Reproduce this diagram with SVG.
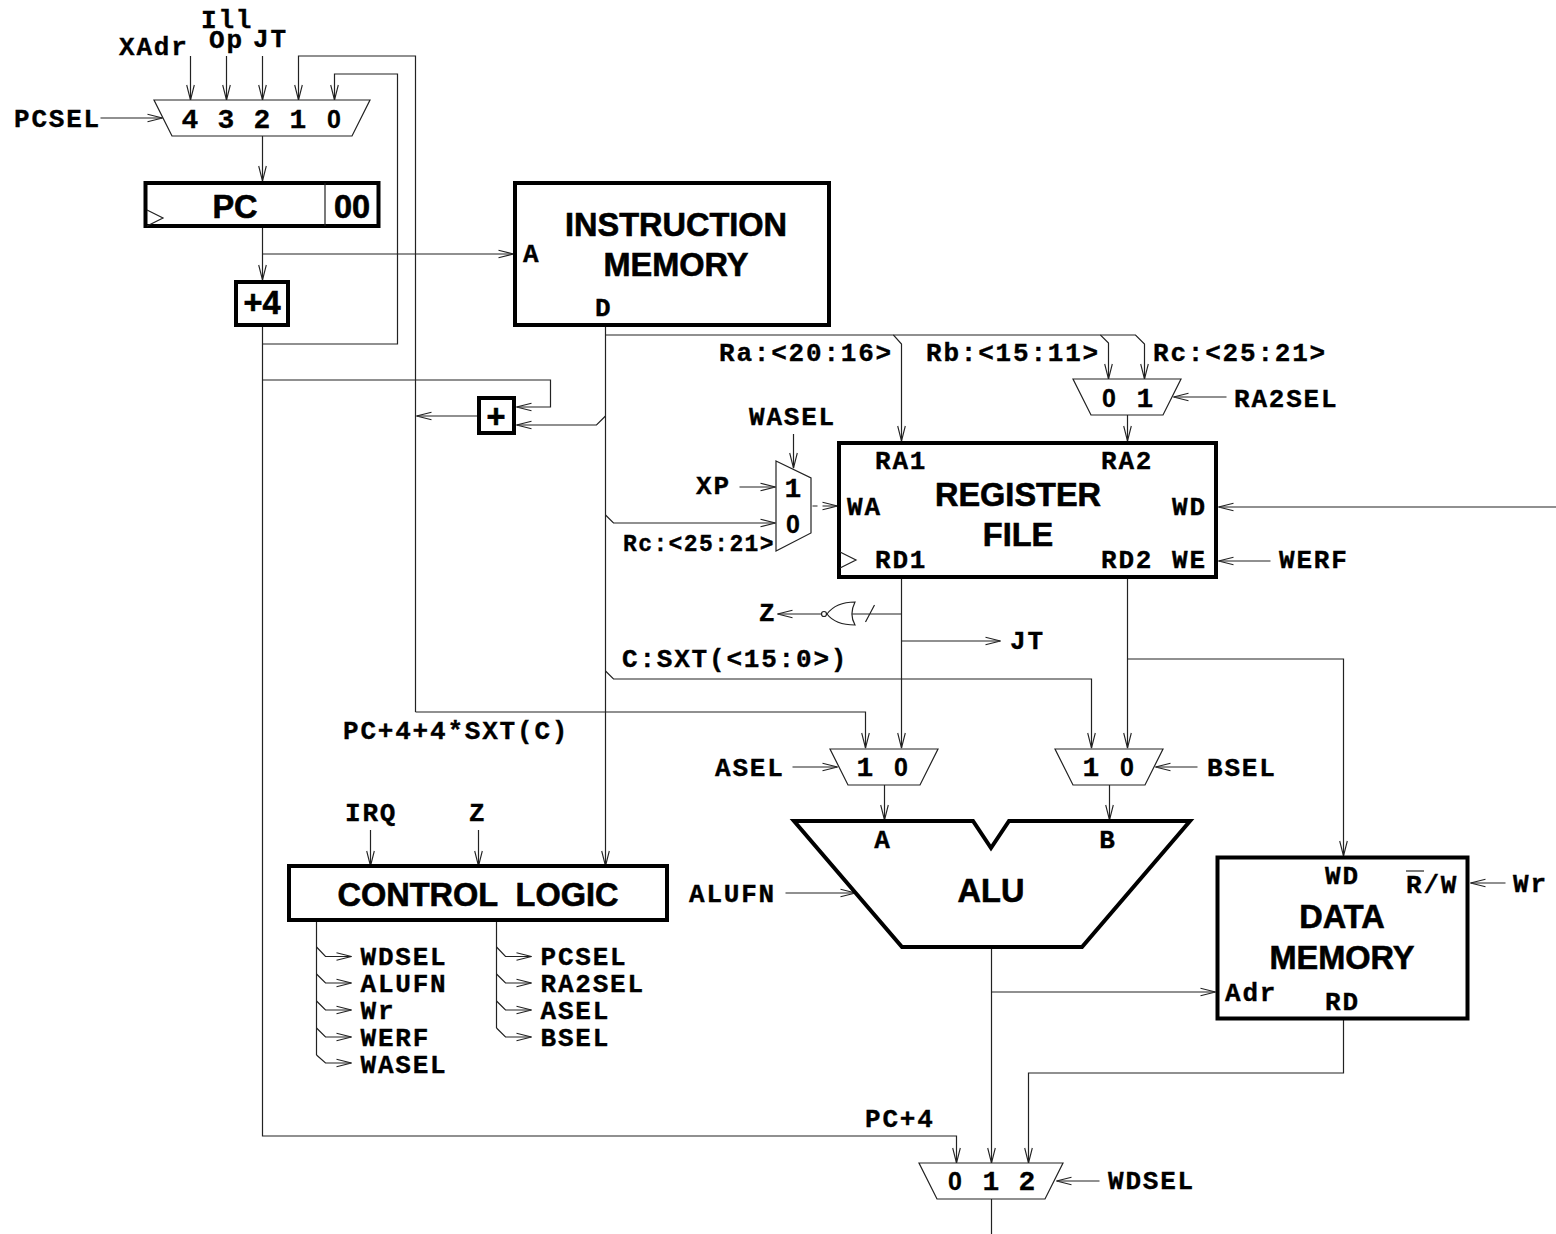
<svg xmlns="http://www.w3.org/2000/svg" width="1556" height="1234" viewBox="0 0 1556 1234">
<style>
rect,polygon.b{fill:#fff;stroke:#000;stroke-width:4}
.t{fill:#fff;stroke:#222;stroke-width:1.2}
.c path,.w{fill:none;stroke:#222;stroke-width:1.2}
.m{font-family:"Liberation Mono",monospace;font-weight:bold;font-size:26px;letter-spacing:1.8px;fill:#000;stroke:#000;stroke-width:.35}
.d{font-family:"Liberation Mono",monospace;font-weight:bold;font-size:28px;fill:#000;stroke:#000;stroke-width:.3;text-anchor:middle}
.z{font-family:"Liberation Sans",sans-serif;font-size:25px}
.s{font-family:"Liberation Sans",Arial,sans-serif;font-weight:bold;font-size:32.500px;fill:#000;stroke:#000;stroke-width:.6;text-anchor:middle}
.a{text-anchor:middle}
.k{font-size:23px;letter-spacing:1.4px}
</style>
<defs><marker id="v" markerUnits="userSpaceOnUse" markerWidth="18" markerHeight="12" refX="16" refY="6" orient="auto"><path d="M1,2.2 L16,6 L1,9.8" fill="none" stroke="#222" stroke-width="1.1"/></marker></defs>
<g id="connectors" class="c" transform="translate(.5,0)">
<path marker-end="url(#v)" d="M190,56V100"/><path marker-end="url(#v)" d="M226,56V100"/><path marker-end="url(#v)" d="M262,56V100"/>
<path marker-end="url(#v)" d="M415,712V56H298V100"/><path marker-end="url(#v)" d="M262,344H397V74H334V100"/>
<path marker-end="url(#v)" d="M100,118H162"/><path marker-end="url(#v)" d="M262,136V181"/><path marker-end="url(#v)" d="M262,228V280"/>
<path marker-end="url(#v)" d="M262,254H513"/>
<path marker-end="url(#v)" d="M262,327V1136H956V1163"/><path marker-end="url(#v)" d="M262,380H550V407H516"/>
<path marker-end="url(#v)" d="M477,416H416"/><path marker-end="url(#v)" d="M605,416L596,425H516"/>
<path marker-end="url(#v)" d="M605,326V866"/>
<path marker-end="url(#v)" d="M605,335H893L901,344V441"/><path marker-end="url(#v)" d="M893,335H1100L1108,343V379"/><path marker-end="url(#v)" d="M1100,335H1135L1144,344V379"/>
<path marker-end="url(#v)" d="M1226,397H1173"/><path marker-end="url(#v)" d="M1127,415V441"/>
<path marker-end="url(#v)" d="M1556,507H1218"/><path marker-end="url(#v)" d="M1270,561H1218"/>
<path marker-end="url(#v)" d="M793,434V468"/><path marker-end="url(#v)" d="M739,487H775"/><path marker-end="url(#v)" d="M605,515L613,523H775"/>
<path marker-end="url(#v)" d="M812,506H817M822,506H837"/>
<path marker-end="url(#v)" d="M821,614H777"/><path d="M850,614H901M865,622L874,605"/>
<path marker-end="url(#v)" d="M901,578V748"/><path marker-end="url(#v)" d="M901,641H1000"/>
<path marker-end="url(#v)" d="M1127,578V748"/><path marker-end="url(#v)" d="M1127,659H1343V856"/>
<path marker-end="url(#v)" d="M605,671L613,679H1091V748"/><path marker-end="url(#v)" d="M415,712H865V748"/>
<path marker-end="url(#v)" d="M792,767H837"/><path marker-end="url(#v)" d="M1197,767H1155"/>
<path marker-end="url(#v)" d="M884,785V820"/><path marker-end="url(#v)" d="M1109,785V820"/>
<path marker-end="url(#v)" d="M785,893H855"/><path marker-end="url(#v)" d="M991,947V1163"/><path marker-end="url(#v)" d="M991,992H1215"/>
<path marker-end="url(#v)" d="M1343,1019V1073H1028V1163"/><path marker-end="url(#v)" d="M1505,883H1470"/>
<path marker-end="url(#v)" d="M1099,1181H1056"/><path d="M991,1199V1234"/>
<path marker-end="url(#v)" d="M370,830V866"/><path marker-end="url(#v)" d="M478,830V866"/>
<path d="M316,920V1055"/>
<path marker-end="url(#v)" d="M316,947L325,956.500H351"/><path marker-end="url(#v)" d="M316,974L325,983H351"/><path marker-end="url(#v)" d="M316,1001L325,1010H351"/><path marker-end="url(#v)" d="M316,1028L325,1037H351"/><path marker-end="url(#v)" d="M316,1055L325,1063H351"/>
<path d="M496,920V1028"/>
<path marker-end="url(#v)" d="M496,947L505,956.500H531"/><path marker-end="url(#v)" d="M496,974L505,983H531"/><path marker-end="url(#v)" d="M496,1001L505,1010H531"/><path marker-end="url(#v)" d="M496,1028L505,1037H531"/>
</g>
<g id="inputs">
<text class="m" x="14" y="127">PCSEL</text><text class="m" x="119" y="55">XAdr</text><text class="m" x="201" y="28">Ill</text><text class="m" x="209" y="48">Op</text><text class="m" x="253" y="47">JT</text>
</g>
<g id="pcmux"><polygon class="t" points="154,100 370,100 352,136 172,136"/><text class="d" x="190" y="128">4</text><text class="d" x="226" y="128">3</text><text class="d" x="262" y="128">2</text><text class="d" x="298" y="128">1</text><text class="d z" x="334" y="128">0</text></g>
<g id="pc"><rect x="145.500" y="183" width="233" height="43"/><path class="w" d="M325,183V226M147,210L163,218L147,226"/><text class="s" x="235" y="218">PC</text><text class="s" x="352" y="218">00</text></g>
<g id="plus4"><rect x="236" y="282" width="52" height="43"/><text class="s" x="262" y="314">+4</text></g>
<g id="imem"><rect x="515" y="183" width="314" height="142"/><text class="s" x="676" y="236">INSTRUCTION</text><text class="s" x="676" y="276">MEMORY</text><text class="m" x="523" y="262">A</text><text class="m" x="595" y="316">D</text></g>
<g id="adder"><rect x="479" y="398" width="35" height="35"/><text class="s" x="496" y="428">+</text></g>
<g id="labels1"><text class="m" x="719" y="361">Ra:&lt;20:16&gt;</text><text class="m" x="926" y="361">Rb:&lt;15:11&gt;</text><text class="m" x="1153" y="361">Rc:&lt;25:21&gt;</text><text class="m" x="1234" y="407">RA2SEL</text><text class="m" x="749" y="425">WASEL</text><text class="m" x="696" y="494">XP</text><text class="m k" x="623" y="551">Rc:&lt;25:21&gt;</text><text class="m" x="1279" y="568">WERF</text><text class="m" x="759" y="621">Z</text><text class="m" x="1010" y="649">JT</text><text class="m" x="622" y="667">C:SXT(&lt;15:0&gt;)</text><text class="m" x="343" y="739">PC+4+4*SXT(C)</text><text class="m" x="715" y="776">ASEL</text><text class="m" x="1207" y="776">BSEL</text><text class="m" x="345" y="821">IRQ</text><text class="m" x="469" y="821">Z</text><text class="m" x="689" y="902">ALUFN</text><text class="m" x="865" y="1127">PC+4</text><text class="m" x="1108" y="1189">WDSEL</text><text class="m" x="1513" y="892">Wr</text></g>
<g id="ra2mux"><polygon class="t" points="1073,379 1181,379 1163,415 1091,415"/><text class="d z" x="1109" y="407">0</text><text class="d" x="1145" y="407">1</text></g>
<g id="wamux"><polygon class="t" points="776,461 811,478 811,533 776,551"/><text class="d" x="793" y="497">1</text><text class="d z" x="793" y="533">0</text></g>
<g id="regfile"><rect x="839" y="443" width="377" height="134"/><path class="w" d="M840,552L856,560L840,568"/><text class="s" x="1018" y="506">REGISTER</text><text class="s" x="1018" y="546">FILE</text><text class="m" x="875" y="469">RA1</text><text class="m" x="1101" y="469">RA2</text><text class="m" x="847" y="515">WA</text><text class="m" x="1172" y="515">WD</text><text class="m" x="875" y="568">RD1</text><text class="m" x="1101" y="568">RD2</text><text class="m" x="1172" y="568">WE</text></g>
<g id="nor"><circle class="t" cx="824" cy="614" r="2.500"/><path class="t" d="M827,614C833,606 842,602 855,602C851,610 851,618 855,625C842,625 833,622 827,614Z"/></g>
<g id="amux"><polygon class="t" points="830,749 938,749 920,785 848,785"/><text class="d" x="865" y="776">1</text><text class="d z" x="901" y="776">0</text></g>
<g id="bmux"><polygon class="t" points="1055,749 1163,749 1145,785 1073,785"/><text class="d" x="1091" y="776">1</text><text class="d z" x="1127" y="776">0</text></g>
<g id="alu"><polygon class="b" points="794,821 973,821 991,848 1009,821 1190,821 1082,947 902,947"/><text class="m a" x="883" y="848">A</text><text class="m a" x="1108" y="848">B</text><text class="s" x="991" y="902">ALU</text></g>
<g id="dmem"><rect x="1217.500" y="857.500" width="250" height="161"/><text class="s" x="1342" y="928">DATA</text><text class="s" x="1342" y="969">MEMORY</text><text class="m" x="1325" y="884">WD</text><text class="m" x="1406" y="893">R/W</text><path class="w" d="M1406,871H1424"/><text class="m" x="1225" y="1001">Adr</text><text class="m" x="1325" y="1010">RD</text></g>
<g id="wdmux"><polygon class="t" points="919,1163 1063,1163 1045,1199 937,1199"/><text class="d z" x="955" y="1190">0</text><text class="d" x="991" y="1190">1</text><text class="d" x="1027" y="1190">2</text></g>
<g id="control"><rect x="289" y="866" width="378" height="54"/><text class="s" x="478" y="906" xml:space="preserve">CONTROL  LOGIC</text><text class="m" x="360.500" y="965">WDSEL</text><text class="m" x="360.500" y="992">ALUFN</text><text class="m" x="360.500" y="1019">Wr</text><text class="m" x="360.500" y="1046">WERF</text><text class="m" x="360.500" y="1073">WASEL</text><text class="m" x="540.500" y="965">PCSEL</text><text class="m" x="540.500" y="992">RA2SEL</text><text class="m" x="540.500" y="1019">ASEL</text><text class="m" x="540.500" y="1046">BSEL</text></g>
</svg>
